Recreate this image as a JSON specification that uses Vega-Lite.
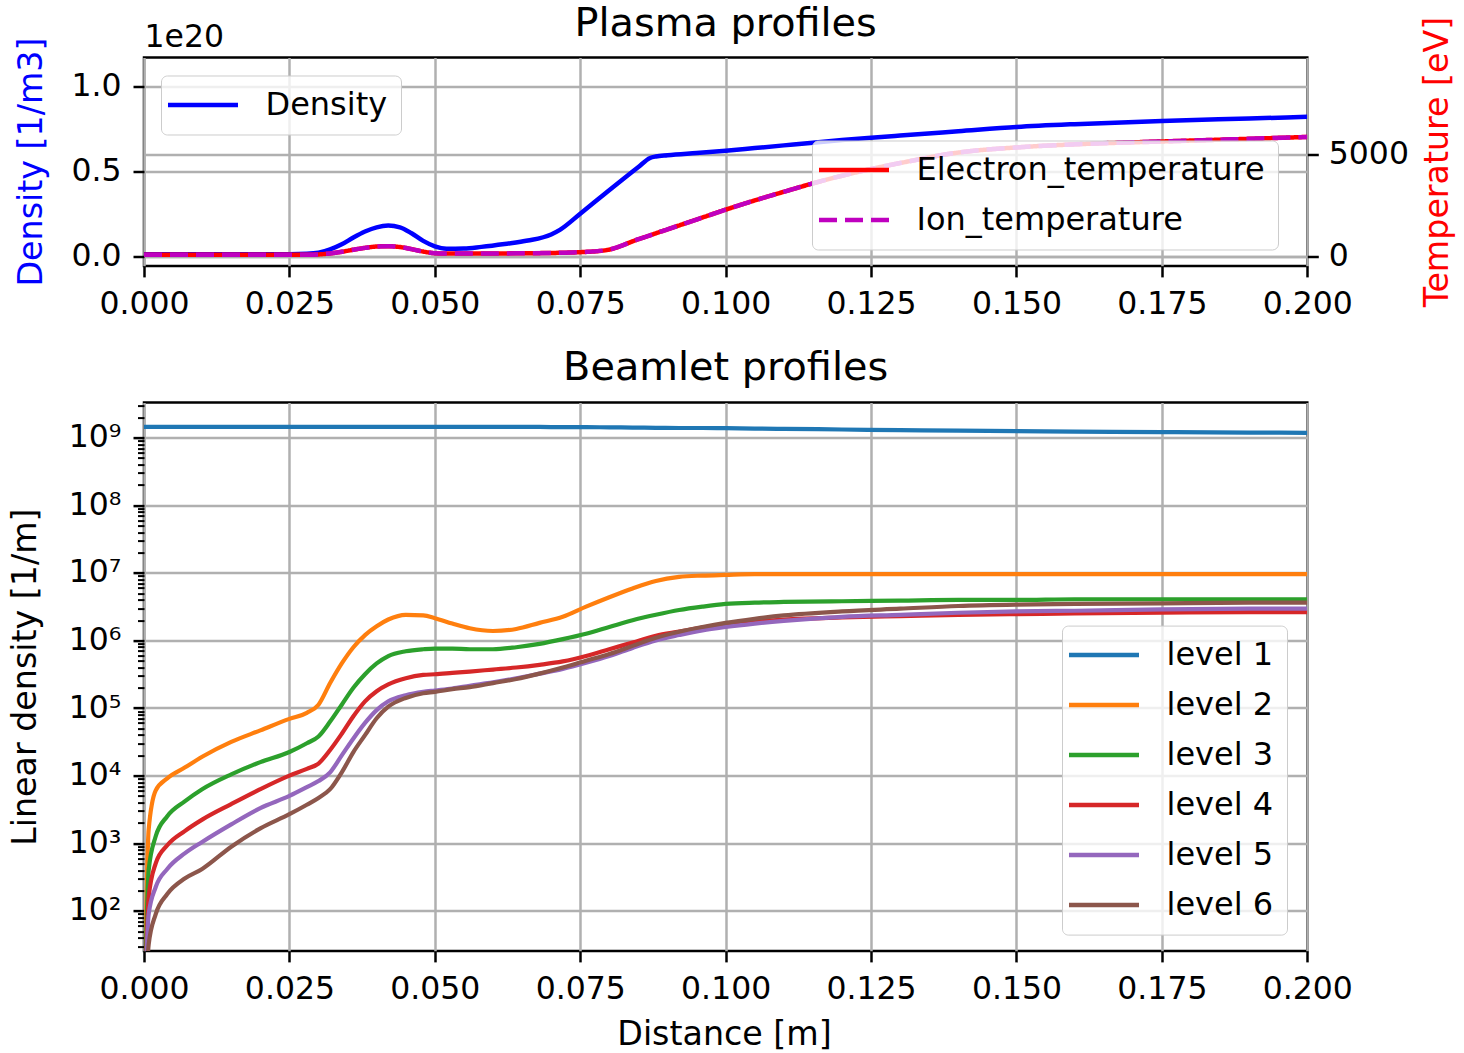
{
  "$schema": "https://vega.github.io/schema/vega-lite/v6.json",
  "background": "white",
  "padding": {"left": 7, "top": 1.5, "right": 2, "bottom": 2},
  "datasets": {
    "plasma": [
      {"distance": 0.0, "density": 1.2e18, "Electron_temperature": 100, "Ion_temperature": 100},
      {"distance": 0.01, "density": 1.2e18, "Electron_temperature": 100, "Ion_temperature": 100},
      {"distance": 0.02, "density": 1.2e18, "Electron_temperature": 100, "Ion_temperature": 100},
      {"distance": 0.025, "density": 1.2e18, "Electron_temperature": 100, "Ion_temperature": 100},
      {"distance": 0.028, "density": 1.4e18, "Electron_temperature": 105, "Ion_temperature": 105},
      {"distance": 0.03, "density": 2.0e18, "Electron_temperature": 120, "Ion_temperature": 120},
      {"distance": 0.032, "density": 4.0e18, "Electron_temperature": 170, "Ion_temperature": 170},
      {"distance": 0.034, "density": 7.0e18, "Electron_temperature": 250, "Ion_temperature": 250},
      {"distance": 0.036, "density": 1.1e19, "Electron_temperature": 350, "Ion_temperature": 350},
      {"distance": 0.038, "density": 1.45e19, "Electron_temperature": 440, "Ion_temperature": 440},
      {"distance": 0.04, "density": 1.7e19, "Electron_temperature": 505, "Ion_temperature": 505},
      {"distance": 0.042, "density": 1.8e19, "Electron_temperature": 520, "Ion_temperature": 520},
      {"distance": 0.044, "density": 1.7e19, "Electron_temperature": 480, "Ion_temperature": 480},
      {"distance": 0.046, "density": 1.35e19, "Electron_temperature": 380, "Ion_temperature": 380},
      {"distance": 0.048, "density": 9.0e18, "Electron_temperature": 260, "Ion_temperature": 260},
      {"distance": 0.05, "density": 5.8e18, "Electron_temperature": 180, "Ion_temperature": 180},
      {"distance": 0.052, "density": 4.4e18, "Electron_temperature": 160, "Ion_temperature": 160},
      {"distance": 0.055, "density": 4.5e18, "Electron_temperature": 160, "Ion_temperature": 160},
      {"distance": 0.058, "density": 5.5e18, "Electron_temperature": 165, "Ion_temperature": 165},
      {"distance": 0.062, "density": 7.2e18, "Electron_temperature": 170, "Ion_temperature": 170},
      {"distance": 0.066, "density": 9.2e18, "Electron_temperature": 180, "Ion_temperature": 180},
      {"distance": 0.07, "density": 1.28e19, "Electron_temperature": 190, "Ion_temperature": 190},
      {"distance": 0.0715, "density": 1.55e19, "Electron_temperature": 200, "Ion_temperature": 200},
      {"distance": 0.075, "density": 2.5e19, "Electron_temperature": 230, "Ion_temperature": 230},
      {"distance": 0.0795, "density": 3.75e19, "Electron_temperature": 330, "Ion_temperature": 330},
      {"distance": 0.085, "density": 5.25e19, "Electron_temperature": 860, "Ion_temperature": 860},
      {"distance": 0.087, "density": 5.78e19, "Electron_temperature": 1050, "Ion_temperature": 1050},
      {"distance": 0.088, "density": 5.87e19, "Electron_temperature": 1150, "Ion_temperature": 1150},
      {"distance": 0.09, "density": 5.94e19, "Electron_temperature": 1340, "Ion_temperature": 1340},
      {"distance": 0.095, "density": 6.07e19, "Electron_temperature": 1820, "Ion_temperature": 1820},
      {"distance": 0.1, "density": 6.2e19, "Electron_temperature": 2300, "Ion_temperature": 2300},
      {"distance": 0.105, "density": 6.36e19, "Electron_temperature": 2750, "Ion_temperature": 2750},
      {"distance": 0.11, "density": 6.52e19, "Electron_temperature": 3170, "Ion_temperature": 3170},
      {"distance": 0.115, "density": 6.68e19, "Electron_temperature": 3580, "Ion_temperature": 3580},
      {"distance": 0.12, "density": 6.83e19, "Electron_temperature": 3950, "Ion_temperature": 3950},
      {"distance": 0.125, "density": 6.97e19, "Electron_temperature": 4280, "Ion_temperature": 4280},
      {"distance": 0.13, "density": 7.1e19, "Electron_temperature": 4570, "Ion_temperature": 4570},
      {"distance": 0.14, "density": 7.35e19, "Electron_temperature": 5080, "Ion_temperature": 5080},
      {"distance": 0.15, "density": 7.6e19, "Electron_temperature": 5330, "Ion_temperature": 5330},
      {"distance": 0.16, "density": 7.77e19, "Electron_temperature": 5480, "Ion_temperature": 5480},
      {"distance": 0.175, "density": 7.96e19, "Electron_temperature": 5620, "Ion_temperature": 5620},
      {"distance": 0.19, "density": 8.1e19, "Electron_temperature": 5750, "Ion_temperature": 5750},
      {"distance": 0.2, "density": 8.2e19, "Electron_temperature": 5840, "Ion_temperature": 5840}
    ],
    "beam": [
      {"distance": 0.0, "level 1": 1.44e9, "level 2": 1, "level 3": 1, "level 4": 1, "level 5": 1, "level 6": 1},
      {"distance": 0.0008, "level 1": 1.44e9, "level 2": 1585, "level 3": 398, "level 4": 158.5, "level 5": 89.1, "level 6": 31.6},
      {"distance": 0.002, "level 1": 1.44e9, "level 2": 6026, "level 3": 1259, "level 4": 501, "level 5": 224, "level 6": 89.1},
      {"distance": 0.004, "level 1": 1.44e9, "level 2": 9120, "level 3": 2512, "level 4": 933, "level 5": 417, "level 6": 178},
      {"distance": 0.007, "level 1": 1.44e9, "level 2": 13180, "level 3": 4169, "level 4": 1514, "level 5": 708, "level 6": 302},
      {"distance": 0.01, "level 1": 1.44e9, "level 2": 19050, "level 3": 6310, "level 4": 2239, "level 5": 1047, "level 6": 417},
      {"distance": 0.015, "level 1": 1.44e9, "level 2": 31620, "level 3": 10470, "level 4": 3802, "level 5": 1905, "level 6": 891},
      {"distance": 0.02, "level 1": 1.44e9, "level 2": 46770, "level 3": 15850, "level 4": 6310, "level 5": 3311, "level 6": 1660},
      {"distance": 0.025, "level 1": 1.44e9, "level 2": 69180, "level 3": 22390, "level 4": 10000, "level 5": 5012, "level 6": 2692},
      {"distance": 0.028, "level 1": 1.44e9, "level 2": 85110, "level 3": 30200, "level 4": 12590, "level 5": 6761, "level 6": 3715},
      {"distance": 0.03, "level 1": 1.44e9, "level 2": 112200, "level 3": 38020, "level 4": 15140, "level 5": 8318, "level 6": 4677},
      {"distance": 0.032, "level 1": 1.44e9, "level 2": 234400, "level 3": 63100, "level 4": 23990, "level 5": 11220, "level 6": 6310},
      {"distance": 0.034, "level 1": 1.44e9, "level 2": 457100, "level 3": 112200, "level 4": 41690, "level 5": 19950, "level 6": 11220},
      {"distance": 0.036, "level 1": 1.44e9, "level 2": 794300, "level 3": 199500, "level 4": 75860, "level 5": 35480, "level 6": 22390},
      {"distance": 0.038, "level 1": 1.44e9, "level 2": 1202000, "level 3": 316200, "level 4": 125900, "level 5": 60260, "level 6": 39810},
      {"distance": 0.04, "level 1": 1.44e9, "level 2": 1622000, "level 3": 457100, "level 4": 177800, "level 5": 93330, "level 6": 70790},
      {"distance": 0.042, "level 1": 1.44e9, "level 2": 2042000, "level 3": 588800, "level 4": 223900, "level 5": 125900, "level 6": 104700},
      {"distance": 0.045, "level 1": 1.44e9, "level 2": 2399000, "level 3": 691800, "level 4": 275400, "level 5": 154900, "level 6": 141300},
      {"distance": 0.048, "level 1": 1.44e9, "level 2": 2344000, "level 3": 741300, "level 4": 309000, "level 5": 173800, "level 6": 166000},
      {"distance": 0.05, "level 1": 1.44e9, "level 2": 2138000, "level 3": 758600, "level 4": 316200, "level 5": 182000, "level 6": 173800},
      {"distance": 0.053, "level 1": 1.44e9, "level 2": 1778000, "level 3": 758600, "level 4": 331100, "level 5": 195000, "level 6": 190500},
      {"distance": 0.056, "level 1": 1.44e9, "level 2": 1514000, "level 3": 741300, "level 4": 346700, "level 5": 213800, "level 6": 204200},
      {"distance": 0.06, "level 1": 1.44e9, "level 2": 1380000, "level 3": 741300, "level 4": 371500, "level 5": 239900, "level 6": 234400},
      {"distance": 0.064, "level 1": 1.44e9, "level 2": 1479000, "level 3": 794300, "level 4": 398100, "level 5": 275400, "level 6": 269200},
      {"distance": 0.068, "level 1": 1.44e9, "level 2": 1820000, "level 3": 891300, "level 4": 436500, "level 5": 323600, "level 6": 323600},
      {"distance": 0.072, "level 1": 1.43e9, "level 2": 2239000, "level 3": 1047000, "level 4": 489800, "level 5": 380200, "level 6": 398100},
      {"distance": 0.076, "level 1": 1.43e9, "level 2": 3162000, "level 3": 1259000, "level 4": 588800, "level 5": 467700, "level 6": 501200},
      {"distance": 0.08, "level 1": 1.42e9, "level 2": 4365000, "level 3": 1585000, "level 4": 741300, "level 5": 588800, "level 6": 631000},
      {"distance": 0.084, "level 1": 1.41e9, "level 2": 5888000, "level 3": 1995000, "level 4": 933300, "level 5": 776200, "level 6": 831800},
      {"distance": 0.088, "level 1": 1.40e9, "level 2": 7586000, "level 3": 2399000, "level 4": 1175000, "level 5": 1000000, "level 6": 1096000},
      {"distance": 0.092, "level 1": 1.39e9, "level 2": 8710000, "level 3": 2818000, "level 4": 1349000, "level 5": 1202000, "level 6": 1349000},
      {"distance": 0.096, "level 1": 1.39e9, "level 2": 9120000, "level 3": 3162000, "level 4": 1549000, "level 5": 1413000, "level 6": 1585000},
      {"distance": 0.1, "level 1": 1.38e9, "level 2": 9333000, "level 3": 3467000, "level 4": 1738000, "level 5": 1585000, "level 6": 1820000},
      {"distance": 0.105, "level 1": 1.36e9, "level 2": 9550000, "level 3": 3631000, "level 4": 1905000, "level 5": 1778000, "level 6": 2089000},
      {"distance": 0.11, "level 1": 1.35e9, "level 2": 9550000, "level 3": 3715000, "level 4": 2042000, "level 5": 1950000, "level 6": 2344000},
      {"distance": 0.12, "level 1": 1.32e9, "level 2": 9550000, "level 3": 3802000, "level 4": 2188000, "level 5": 2239000, "level 6": 2692000},
      {"distance": 0.13, "level 1": 1.29e9, "level 2": 9550000, "level 3": 3890000, "level 4": 2291000, "level 5": 2399000, "level 6": 2951000},
      {"distance": 0.14, "level 1": 1.27e9, "level 2": 9550000, "level 3": 3981000, "level 4": 2399000, "level 5": 2570000, "level 6": 3236000},
      {"distance": 0.15, "level 1": 1.25e9, "level 2": 9550000, "level 3": 3981000, "level 4": 2455000, "level 5": 2692000, "level 6": 3388000},
      {"distance": 0.16, "level 1": 1.23e9, "level 2": 9550000, "level 3": 4074000, "level 4": 2512000, "level 5": 2754000, "level 6": 3467000},
      {"distance": 0.175, "level 1": 1.21e9, "level 2": 9550000, "level 3": 4074000, "level 4": 2570000, "level 5": 2884000, "level 6": 3548000},
      {"distance": 0.19, "level 1": 1.19e9, "level 2": 9550000, "level 3": 4074000, "level 4": 2630000, "level 5": 2951000, "level 6": 3631000},
      {"distance": 0.2, "level 1": 1.18e9, "level 2": 9550000, "level 3": 4074000, "level 4": 2630000, "level 5": 2951000, "level 6": 3631000}
    ]
  },
  "config": {
    "font": "DejaVu Sans",
    "view": {"stroke": "black", "strokeWidth": 2.5},
    "axis": {
      "domain": false,
      "tickColor": "black",
      "tickSize": 11,
      "tickWidth": 2.5,
      "labelFont": "DejaVu Sans",
      "labelFontSize": 31.5,
      "labelColor": "black",
      "labelPadding": 12,
      "gridColor": "#b0b0b0",
      "gridWidth": 2.5,
      "titleFont": "DejaVu Sans",
      "titleFontSize": 33.3,
      "titleFontWeight": "normal",
      "titleColor": "black",
      "labelOverlap": false,
      "labelFlush": false
    },
    "legend": {
      "orient": "none",
      "labelFont": "DejaVu Sans",
      "labelFontSize": 32,
      "labelColor": "black",
      "labelLimit": 0,
      "symbolType": "M-2.5,0H2.5",
      "symbolSize": 784,
      "symbolStrokeWidth": 4.5,
      "symbolOffset": 12.5,
      "labelOffset": 46,
      "padding": 13,
      "rowPadding": 17,
      "strokeColor": "#cccccc",
      "fillColor": "rgba(255,255,255,0.8)",
      "cornerRadius": 6
    },
    "title": {
      "font": "DejaVu Sans",
      "fontSize": 39.8,
      "fontWeight": "normal",
      "color": "black",
      "baseline": "alphabetic",
      "frame": "group",
      "anchor": "middle"
    }
  },
  "spacing": 136.1,
  "bounds": "flush",
  "resolve": {"scale": {"color": "independent", "strokeDash": "independent"}},
  "vconcat": [
    {
      "width": 1163.3,
      "height": 208.4,
      "title": {"text": "Plasma profiles", "offset": -28.4},
      "data": {"name": "plasma"},
      "layer": [
        {
          "mark": {"type": "line", "clip": true, "interpolate": "monotone", "strokeWidth": 4.5},
          "encoding": {
            "x": {
              "field": "distance", "type": "quantitative",
              "scale": {"domain": [0, 0.2], "nice": false, "zero": false},
              "axis": {"orient": "bottom", "values": [0, 0.025, 0.05, 0.075, 0.1, 0.125, 0.15, 0.175, 0.2], "format": ".3f", "title": null, "grid": true}
            },
            "y": {
              "field": "density", "type": "quantitative",
              "scale": {"domain": [-5.7e18, 1.169e20], "nice": false, "zero": false},
              "axis": {
                "orient": "left", "values": [0, 5e19, 1e20],
                "labelExpr": "format(datum.value / 1e20, '.1f')",
                "grid": true,
                "title": "Density [1/m3]", "titleColor": "#0000ff",
                "titleAngle": 270, "titleX": -102, "titleY": 104,
                "titleBaseline": "alphabetic", "titleAlign": "center"
              }
            },
            "color": {
              "datum": "Density", "type": "nominal",
              "scale": {"domain": ["Density"], "range": ["#0000ff"]},
              "legend": {"title": null, "legendX": 17, "legendY": 18}
            }
          }
        },
        {
          "transform": [{"fold": ["Electron_temperature", "Ion_temperature"], "as": ["series", "temperature"]}],
          "mark": {"type": "line", "clip": true, "interpolate": "monotone", "strokeWidth": 4.5},
          "encoding": {
            "x": {
              "field": "distance", "type": "quantitative",
              "scale": {"domain": [0, 0.2], "nice": false, "zero": false},
              "axis": {
                "orient": "top", "title": "1e20", "labels": false, "ticks": false, "grid": false,
                "titleAngle": 0, "titleAlign": "left", "titleBaseline": "alphabetic",
                "titleX": 0, "titleY": -10.6, "titleFontSize": 31.5
              }
            },
            "y": {
              "field": "temperature", "type": "quantitative",
              "scale": {"domain": [-438, 9708], "nice": false, "zero": false},
              "axis": {
                "orient": "right", "values": [0, 5000], "format": "d", "grid": true, "labelPadding": 10,
                "title": "Temperature [eV]", "titleColor": "#ff0000",
                "titleAngle": 270, "titleX": 140, "titleY": 104,
                "titleBaseline": "alphabetic", "titleAlign": "center"
              }
            },
            "color": {
              "field": "series", "type": "nominal",
              "scale": {"domain": ["Electron_temperature", "Ion_temperature"], "range": ["#ff0000", "#bf00bf"]},
              "legend": {"title": null, "legendX": 668, "legendY": 83}
            },
            "strokeDash": {
              "field": "series", "type": "nominal",
              "scale": {"domain": ["Electron_temperature", "Ion_temperature"], "range": [[1, 0], [18, 8]]},
              "legend": {"title": null, "legendX": 668, "legendY": 83}
            }
          }
        }
      ],
      "resolve": {
        "scale": {"y": "independent", "color": "independent", "strokeDash": "independent"},
        "axis": {"x": "independent", "y": "independent"}
      }
    },
    {
      "width": 1163.3,
      "height": 548.3,
      "title": {"text": "Beamlet profiles", "offset": 13.4},
      "data": {"name": "beam"},
      "layer": [
        {
          "transform": [{"fold": ["level 1"], "as": ["level", "linear_density"]}],
          "mark": {"type": "line", "clip": true, "interpolate": "monotone", "strokeWidth": 4.2},
          "encoding": {
            "x": {
              "field": "distance", "type": "quantitative",
              "scale": {"domain": [0, 0.2], "nice": false, "zero": false},
              "axis": {
                "orient": "bottom", "values": [0, 0.025, 0.05, 0.075, 0.1, 0.125, 0.15, 0.175, 0.2], "format": ".3f",
                "grid": true, "title": "Distance [m]", "titleBaseline": "alphabetic", "titleX": 580, "titleY": 94
              }
            },
            "y": {
              "field": "linear_density", "type": "quantitative",
              "scale": {"type": "log", "domain": [25.6, 3.3e9], "nice": false},
              "axis": {
                "orient": "left",
                "values": [100, 1000, 10000, 100000, 1000000, 10000000, 100000000, 1000000000],
                "labelExpr": "'10' + ['⁰','¹','²','³','⁴','⁵','⁶','⁷','⁸','⁹'][round(log(datum.value) / LN10)]",
                "grid": true,
                "title": "Linear density [1/m]",
                "titleAngle": 270, "titleX": -108, "titleY": 274,
                "titleBaseline": "alphabetic", "titleAlign": "center"
              }
            },
            "color": {
              "field": "level", "type": "nominal",
              "scale": {"domain": ["level 1", "level 2", "level 3", "level 4", "level 5", "level 6"], "range": ["#1f77b4", "#ff7f0e", "#2ca02c", "#d62728", "#9467bd", "#8c564b"]},
              "legend": {"title": null, "legendX": 918, "legendY": 223}
            }
          }
        },
        {
          "transform": [{"fold": ["level 2", "level 3", "level 4", "level 5", "level 6"], "as": ["level", "linear_density"]}],
          "mark": {"type": "line", "clip": true, "interpolate": "monotone", "strokeWidth": 4.2},
          "encoding": {
            "x": {
              "field": "distance", "type": "quantitative",
              "scale": {"domain": [0, 0.2], "nice": false, "zero": false},
              "axis": {
                "orient": "bottom", "values": [0, 0.025, 0.05, 0.075, 0.1, 0.125, 0.15, 0.175, 0.2], "format": ".3f",
                "grid": true, "title": "Distance [m]", "titleBaseline": "alphabetic", "titleX": 580, "titleY": 94
              }
            },
            "y": {
              "field": "linear_density", "type": "quantitative",
              "scale": {"type": "log", "domain": [25.6, 3.3e9], "nice": false},
              "axis": {
                "orient": "left",
                "values": [30, 40, 50, 60, 70, 80, 90, 200, 300, 400, 500, 600, 700, 800, 900, 2000, 3000, 4000, 5000, 6000, 7000, 8000, 9000, 20000, 30000, 40000, 50000, 60000, 70000, 80000, 90000, 200000, 300000, 400000, 500000, 600000, 700000, 800000, 900000, 2000000, 3000000, 4000000, 5000000, 6000000, 7000000, 8000000, 9000000, 20000000, 30000000, 40000000, 50000000, 60000000, 70000000, 80000000, 90000000, 200000000, 300000000, 400000000, 500000000, 600000000, 700000000, 800000000, 900000000, 2000000000, 3000000000],
                "labels": false, "title": null, "grid": false, "tickSize": 6.5, "tickWidth": 2
              }
            },
            "color": {
              "field": "level", "type": "nominal",
              "scale": {"domain": ["level 1", "level 2", "level 3", "level 4", "level 5", "level 6"], "range": ["#1f77b4", "#ff7f0e", "#2ca02c", "#d62728", "#9467bd", "#8c564b"]},
              "legend": {"title": null, "legendX": 918, "legendY": 223}
            }
          }
        }
      ],
      "resolve": {"axis": {"y": "independent"}}
    }
  ]
}
